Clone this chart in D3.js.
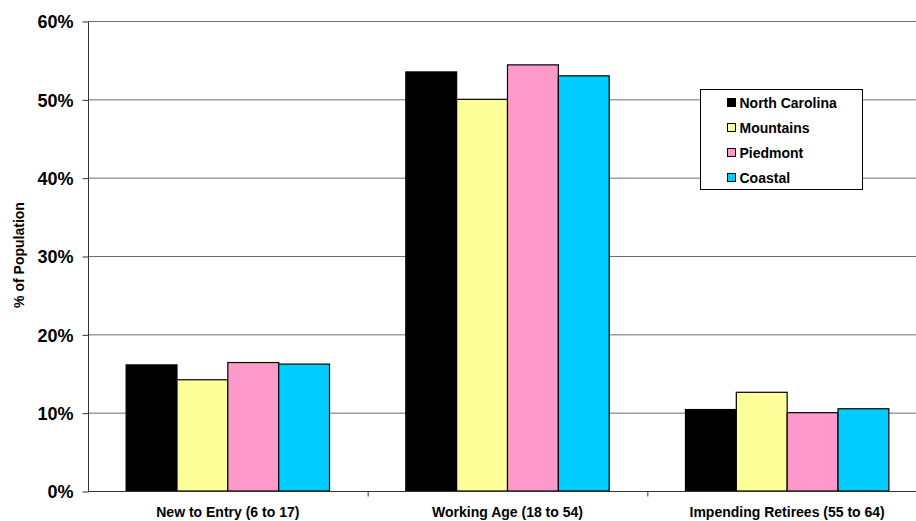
<!DOCTYPE html>
<html>
<head>
<meta charset="utf-8">
<script src="https://cdn.jsdelivr.net/npm/d3@7"></script>
<style>
html,body{margin:0;padding:0;background:#fff;overflow:hidden;}
text{font-family:Arial,"Liberation Sans",sans-serif;font-weight:bold;fill:#000;}
</style>
</head>
<body>
<svg id="chart" width="916" height="521"></svg>
<script>
const categories = ["New to Entry (6 to 17)", "Working Age (18 to 54)", "Impending Retirees (55 to 64)"];
const seriesNames = ["North Carolina", "Mountains", "Piedmont", "Coastal"];
const northCarolina = [16.1, 53.5, 10.4];
const mountains = [14.2, 50.0, 12.6];
const piedmont = [16.4, 54.4, 10.0];
const coastal = [16.2, 53.0, 10.5];
const seriesColors = ["#000000", "#FFFF99", "#FF99CC", "#00CCFF"];
const yTicks = [0, 10, 20, 30, 40, 50, 60];

const seriesValues = [northCarolina, mountains, piedmont, coastal];

const svg = d3.select("#chart");
const x0 = 88, x1 = 927, yTop = 21, yBot = 491;

const x = d3.scaleBand().domain(categories).range([x0, x1]).paddingInner(0).paddingOuter(0);
const bw = x.bandwidth() / 5.5;
const xs = d3.scaleBand().domain(seriesNames).range([0, bw * 4]);
const y = d3.scaleLinear().domain([0, 60]).range([yBot, yTop]);

// gridlines
svg.append("g").selectAll("line").data(yTicks.filter(d => d > 0)).join("line")
  .attr("x1", x0).attr("x2", x1)
  .attr("y1", d => y(d) + 0.5).attr("y2", d => y(d) + 0.5)
  .attr("stroke", "#6e6e6e").attr("stroke-width", 1);

// bars
const groups = svg.append("g").selectAll("g").data(categories).join("g")
  .attr("transform", c => `translate(${x(c) + bw * 0.75},0)`);
groups.selectAll("rect").data((c, i) => seriesNames.map((s, j) => ({s, v: seriesValues[j][i], j})))
  .join("rect")
  .attr("x", d => xs(d.s))
  .attr("width", xs.bandwidth())
  .attr("y", d => y(d.v))
  .attr("height", d => yBot - y(d.v))
  .attr("fill", d => seriesColors[d.j])
  .attr("stroke", "#000").attr("stroke-width", 1.2);

// y axis
const yAxis = d3.axisLeft(y).tickValues(yTicks).tickFormat(d => d + "%").tickSize(6).tickPadding(9);
const gy = svg.append("g").attr("transform", `translate(${x0 + 0.5},0.5)`).call(yAxis);
gy.select(".domain").attr("stroke", "#333").attr("d", `M0,${yTop}V${yBot}`);
gy.selectAll(".tick line").attr("stroke", "#333");
gy.selectAll(".tick text").style("font-size", "18px").attr("dy", "0.36em");

// x axis
const gx = svg.append("g").attr("transform", `translate(0,${yBot + 0.5})`);
gx.append("line").attr("x1", x0).attr("x2", x1).attr("stroke", "#333");
gx.selectAll(".tk").data(categories.slice(1)).join("line").attr("class", "tk")
  .attr("x1", c => x(c) + 0.5).attr("x2", c => x(c) + 0.5).attr("y1", 0).attr("y2", 5).attr("stroke", "#333");
gx.selectAll("text").data(categories).join("text")
  .attr("x", c => x(c) + x.bandwidth() / 2)
  .attr("y", 25).attr("text-anchor", "middle").style("font-size", "14px").text(c => c);

// y title
svg.append("text").attr("transform", "translate(24,255) rotate(-90)")
  .attr("text-anchor", "middle").style("font-size", "14px").text("% of Population");

// legend
const lg = svg.append("g").attr("transform", "translate(700.5,89.5)");
lg.append("rect").attr("width", 162).attr("height", 100).attr("fill", "#fff").attr("stroke", "#000");
const li = lg.selectAll(".li").data(seriesNames).join("g").attr("class", "li")
  .attr("transform", (d, i) => `translate(27,${13 + i * 25})`);
li.append("rect").attr("x", 0).attr("y", -4).attr("width", 8).attr("height", 8)
  .attr("fill", (d, i) => seriesColors[i]).attr("stroke", "#000");
li.append("text").attr("x", 12).attr("y", 0).attr("dy", "0.36em").style("font-size", "14px").text(d => d);
</script>
</body>
</html>
